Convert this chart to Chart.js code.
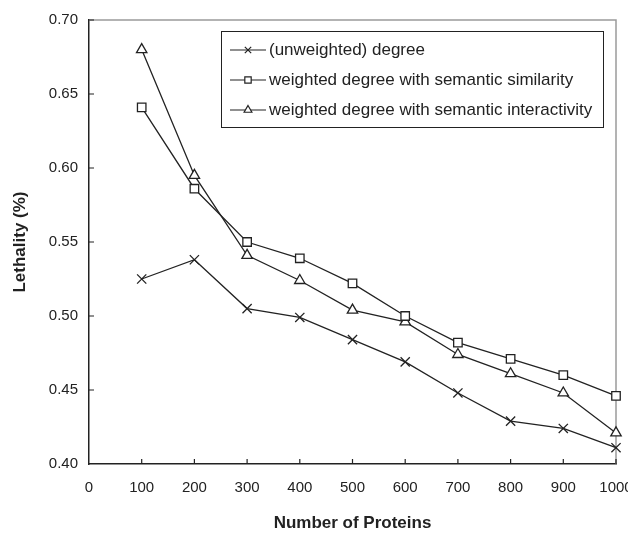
<!DOCTYPE html>
<html lang="en">
    <head>
        <meta charset="UTF-8" />
        <title>Lethality vs Number of Proteins</title>
        <script src="https://cdn.jsdelivr.net/npm/chart.js"></script>
    </head>
    <body>
        <div id="container">
            <canvas id="lethalityChart" width="628" height="538"></canvas>
        </div>

        <style>
            html, body {
                margin: 0;
                padding: 0;
                background: #ffffff;
                overflow: hidden;
            }
            #container {
                width: 628px;
                height: 538px;
            }
        </style>

        <script>
            const proteinCounts = [100, 200, 300, 400, 500, 600, 700, 800, 900, 1000];
            const unweightedDegree = [0.525, 0.538, 0.505, 0.499, 0.484, 0.469, 0.448, 0.429, 0.424, 0.411];
            const semanticSimilarity = [0.641, 0.586, 0.550, 0.539, 0.522, 0.500, 0.482, 0.471, 0.460, 0.446];
            const semanticInteractivity = [0.680, 0.595, 0.541, 0.524, 0.504, 0.496, 0.474, 0.461, 0.448, 0.421];
            const seriesLabels = [
                '(unweighted) degree',
                'weighted degree with semantic similarity',
                'weighted degree with semantic interactivity',
            ];

            const font = "'Liberation Sans', Arial, sans-serif";

            function toPoints(values) {
                return proteinCounts.map((n, i) => ({ x: n, y: values[i] }));
            }

            // ticks point inwards and the top/right frame is grey in the original
            const frameAndTicks = {
                id: 'frameAndTicks',
                beforeDatasetsDraw(chart) {
                    const { ctx, chartArea, scales } = chart;
                    ctx.save();
                    ctx.strokeStyle = '#9a9a9a';
                    ctx.lineWidth = 1.5;
                    ctx.beginPath();
                    ctx.moveTo(chartArea.left, chartArea.top);
                    ctx.lineTo(chartArea.right, chartArea.top);
                    ctx.lineTo(chartArea.right, chartArea.bottom);
                    ctx.stroke();

                    ctx.strokeStyle = '#222';
                    ctx.lineWidth = 1.2;
                    ctx.beginPath();
                    scales.x.ticks.forEach((t, i) => {
                        if (t.value === 0) return;
                        const px = scales.x.getPixelForTick(i);
                        ctx.moveTo(px, chartArea.bottom);
                        ctx.lineTo(px, chartArea.bottom - 5);
                    });
                    scales.y.ticks.forEach((t, i) => {
                        if (i === 0) return;
                        const py = scales.y.getPixelForTick(i);
                        ctx.moveTo(chartArea.left, py);
                        ctx.lineTo(chartArea.left + 5, py);
                    });
                    ctx.stroke();
                    ctx.restore();
                },
            };

            const boxedLegend = {
                id: 'boxedLegend',
                afterDatasetsDraw(chart) {
                    const { ctx } = chart;
                    const box = { left: 221, top: 31, right: 603, bottom: 127 };
                    const rows = [50, 80, 110];
                    ctx.save();
                    ctx.fillStyle = '#fff';
                    ctx.fillRect(box.left, box.top, box.right - box.left, box.bottom - box.top);
                    ctx.strokeStyle = '#222';
                    ctx.lineWidth = 1;
                    ctx.strokeRect(box.left + 0.5, box.top + 0.5, box.right - box.left, box.bottom - box.top);
                    ctx.font = '17px ' + font;
                    ctx.textBaseline = 'middle';
                    chart.data.datasets.forEach((ds, i) => {
                        const y = rows[i];
                        ctx.strokeStyle = '#222';
                        ctx.lineWidth = 1.2;
                        ctx.beginPath();
                        ctx.moveTo(230, y);
                        ctx.lineTo(266, y);
                        ctx.stroke();
                        ctx.fillStyle = '#fff';
                        Chart.helpers.drawPoint(
                            ctx,
                            { pointStyle: ds.pointStyle, radius: 4.5, borderWidth: 1.2, rotation: 0 },
                            248,
                            y
                        );
                        ctx.fillStyle = '#222';
                        ctx.fillText(ds.label, 269, y);
                    });
                    ctx.restore();
                },
            };

            function makeSeries(label, values, style) {
                return {
                    label: label,
                    data: toPoints(values),
                    borderColor: '#222',
                    borderWidth: 1.3,
                    backgroundColor: '#fff',
                    pointStyle: style,
                    pointRadius: style === 'crossRot' ? 6.5 : 6,
                    pointBorderColor: '#222',
                    pointBackgroundColor: '#fff',
                    pointBorderWidth: 1.3,
                    fill: false,
                    tension: 0,
                    clip: false,
                };
            }

            const ctx = document.getElementById('lethalityChart').getContext('2d');
            new Chart(ctx, {
                type: 'line',
                data: {
                    datasets: [
                        makeSeries(seriesLabels[0], unweightedDegree, 'crossRot'),
                        makeSeries(seriesLabels[1], semanticSimilarity, 'rect'),
                        makeSeries(seriesLabels[2], semanticInteractivity, 'triangle'),
                    ],
                },
                options: {
                    responsive: false,
                    animation: false,
                    layout: { padding: { top: 16, right: 12, left: 0, bottom: 0 } },
                    plugins: {
                        legend: { display: false },
                        tooltip: { enabled: false },
                    },
                    scales: {
                        x: {
                            type: 'linear',
                            min: 0,
                            max: 1000,
                            grid: { display: false, drawTicks: false },
                            border: { display: true, color: '#222', width: 1.5 },
                            ticks: {
                                stepSize: 100,
                                padding: 15,
                                color: '#222',
                                font: { family: font, size: 15 },
                                maxRotation: 0,
                                callback: (v) => String(v),
                            },
                            title: {
                                display: true,
                                text: 'Number of Proteins',
                                color: '#222',
                                font: { family: font, size: 17, weight: 'bold' },
                            },
                            afterFit(scale) {
                                scale.height = 74;
                                scale.paddingRight = 0;
                            },
                        },
                        y: {
                            min: 0.4,
                            max: 0.7,
                            grid: { display: false, drawTicks: false },
                            border: { display: true, color: '#222', width: 1.5 },
                            ticks: {
                                stepSize: 0.05,
                                padding: 11,
                                color: '#222',
                                font: { family: font, size: 15 },
                                callback: (v) => v.toFixed(2),
                            },
                            title: {
                                display: true,
                                text: 'Lethality (%)',
                                color: '#222',
                                padding: { top: 10, bottom: 0 },
                                font: { family: font, size: 17, weight: 'bold' },
                            },
                            afterFit(scale) {
                                scale.width = 89;
                            },
                        },
                    },
                },
                plugins: [frameAndTicks, boxedLegend],
            });
        </script>
    </body>
</html>
